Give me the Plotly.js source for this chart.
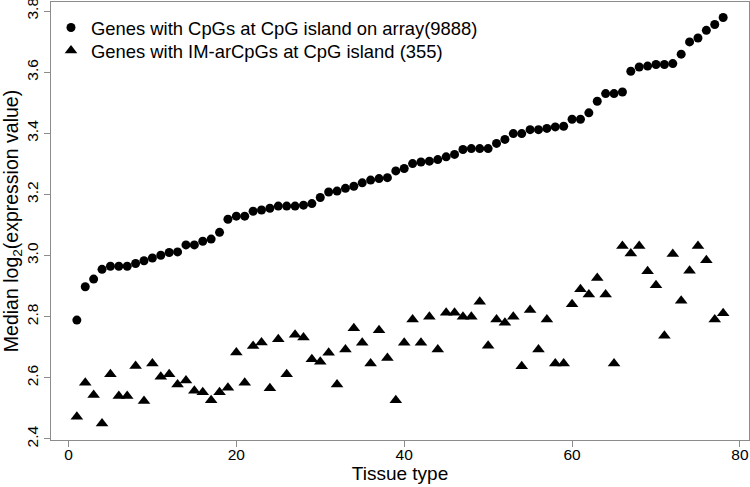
<!DOCTYPE html>
<html>
<head>
<meta charset="utf-8">
<script src="https://cdn.plot.ly/plotly-3.0.1.min.js"></script>
<style>html,body{margin:0;padding:0;background:#fff;}#chart{width:750px;height:487px;}</style>
</head>
<body>
<div id="chart"></div>
<script>
// Tissue type index (1..78)
const tissueIndex = [1,2,3,4,5,6,7,8,9,10,11,12,13,14,15,16,17,18,19,20,21,22,23,24,25,26,27,28,29,30,31,32,33,34,35,36,37,38,39,40,41,42,43,44,45,46,47,48,49,50,51,52,53,54,55,56,57,58,59,60,61,62,63,64,65,66,67,68,69,70,71,72,73,74,75,76,77,78];

// Genes with CpGs at CpG island on array (9888)
const cpgIslandAll = [2.789,2.898,2.923,2.955,2.965,2.965,2.965,2.974,2.983,2.992,
  3.001,3.010,3.012,3.035,3.035,3.047,3.054,3.076,3.119,3.129,
  3.129,3.145,3.149,3.155,3.162,3.162,3.162,3.165,3.170,3.190,
  3.208,3.211,3.220,3.227,3.238,3.247,3.252,3.255,3.277,3.285,
  3.301,3.306,3.309,3.314,3.323,3.331,3.347,3.350,3.350,3.350,
  3.367,3.380,3.399,3.399,3.412,3.412,3.416,3.421,3.423,3.446,
  3.446,3.467,3.505,3.530,3.530,3.535,3.603,3.617,3.620,3.625,
  3.625,3.628,3.659,3.699,3.712,3.737,3.756,3.779];

// Genes with IM-arCpGs at CpG island (355)
const imArCpg = [2.473,2.584,2.544,2.451,2.612,2.541,2.541,2.639,2.524,2.647,
  2.604,2.612,2.578,2.591,2.558,2.553,2.527,2.553,2.568,2.683,
  2.584,2.704,2.716,2.566,2.726,2.612,2.741,2.732,2.661,2.653,
  2.682,2.578,2.693,2.762,2.715,2.647,2.756,2.665,2.527,2.715,
  2.791,2.715,2.800,2.693,2.813,2.813,2.800,2.800,2.849,2.705,
  2.791,2.780,2.800,2.638,2.822,2.693,2.791,2.647,2.647,2.841,
  2.890,2.873,2.927,2.873,2.647,3.031,3.007,3.031,2.949,2.903,
  2.738,3.005,2.852,2.950,3.031,2.985,2.791,2.811];

const seriesNames = ["Genes with CpGs at CpG island on array(9888)", "Genes with IM-arCpGs at CpG island (355)"];
const xTicks = [0,20,40,60,80];
const yTicks = [2.4,2.6,2.8,3.0,3.2,3.4,3.6,3.8];
const yTickText = ["2.4","2.6","2.8","3.0","3.2","3.4","3.6","3.8"];

const FONT = "Liberation Sans, Arial, Helvetica, sans-serif";

const traces = [
  {x: tissueIndex, y: cpgIslandAll, name: seriesNames[0], type: "scatter", mode: "markers",
   legend: "legend", marker: {symbol: "circle", size: 9, color: "#000"}},
  {x: tissueIndex, y: imArCpg, name: seriesNames[1], type: "scatter", mode: "markers",
   legend: "legend2", marker: {symbol: "triangle-up", size: 11, color: "#000"}}
];

const legendBase = {x: 0.0, xanchor: "left", yanchor: "top", bgcolor: "rgba(0,0,0,0)",
  font: {family: FONT, size: 18.4, color: "#000"}};

const layout = {
  width: 750, height: 487,
  margin: {l: 51, r: 1, t: 2, b: 47, pad: 0},
  paper_bgcolor: "#fff", plot_bgcolor: "#fff",
  font: {family: FONT, color: "#000", size: 15.5},
  showlegend: true,
  legend: Object.assign({}, legendBase, {y: 0.984}),
  legend2: Object.assign({}, legendBase, {y: 0.9315}),
  xaxis: {range: [-2.08, 81.08], tickmode: "array", tickvals: xTicks,
          showline: true, mirror: true, linecolor: "#8c8c8c", linewidth: 1,
          ticks: "outside", ticklen: 6, tickcolor: "#8c8c8c", showgrid: false, zeroline: false,
          ticklabelstandoff: -6,
          tickfont: {size: 15.5, family: FONT, color: "#000"},
          title: {text: "Tissue type", font: {size: 19, family: FONT, color: "#000"}, standoff: 0}},
  yaxis: {range: [2.3967, 3.8296], tickmode: "array", tickvals: yTicks, ticktext: yTickText,
          showline: true, mirror: true, linecolor: "#8c8c8c", linewidth: 1,
          ticks: "outside", ticklen: 6, tickcolor: "#8c8c8c", showgrid: false, zeroline: false,
          tickangle: -90, ticklabeloverflow: "allow",
          tickfont: {size: 15.5, family: FONT, color: "#000"},
          title: {text: "Median log<sub>2</sub>(expression value)", font: {size: 19.5, family: FONT, color: "#000"}, standoff: 2}}
};

Plotly.newPlot("chart", traces, layout, {displayModeBar: false, staticPlot: true});
</script>
</body>
</html>
